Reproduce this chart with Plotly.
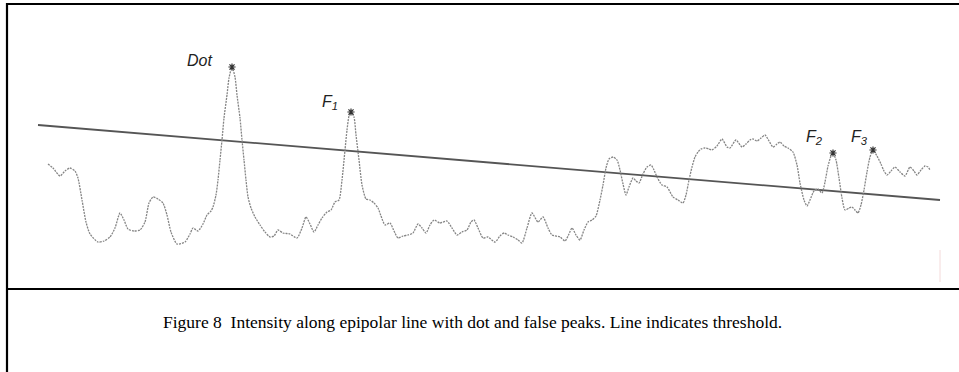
import plotly.graph_objects as go

W, H = 959, 372

# Intensity profile sampled along the epipolar line (position, intensity)
position = [48, 53, 60, 65, 70, 75, 78, 82, 86, 90, 98, 104, 110, 115, 120, 124, 128, 134, 140, 145,
            149, 153, 158, 163, 167, 171, 177, 185, 190, 193, 198, 203, 207, 211, 213, 216, 218, 220, 222, 224,
            227, 229, 232, 235, 237, 240, 242, 244, 246, 248, 251, 255, 260, 265, 270, 274, 278, 283, 290, 297,
            302, 306, 310, 314, 318, 322, 327, 331, 335, 339, 342, 345, 347, 349, 351, 354, 356, 359, 362, 366,
            370, 374, 378, 381, 385, 390, 394, 398, 403, 408, 413, 418, 422, 426, 430, 434, 440, 447, 452, 457,
            462, 467, 471, 474, 478, 483, 488, 495, 500, 504, 508, 513, 518, 522, 527, 532, 538, 543, 548, 552,
            560, 565, 569, 572, 576, 580, 584, 588, 592, 596, 600, 603, 606, 609, 613, 617, 620, 623, 626, 629,
            633, 636, 639, 643, 647, 651, 654, 657, 662, 667, 673, 678, 683, 686, 689, 692, 695, 698, 701, 705,
            709, 712, 717, 722, 727, 730, 736, 742, 746, 750, 753, 757, 761, 765, 769, 773, 777, 780, 784, 788,
            793, 797, 800, 804, 807, 810, 814, 818, 822, 825, 828, 831, 833, 836, 839, 842, 845, 849, 852, 855,
            858, 861, 864, 867, 870, 873, 877, 881, 884, 887, 891, 895, 900, 905, 910, 914, 917, 921, 925, 928,
            930]
level_px = [164, 168, 176, 171, 168, 171, 178, 200, 222, 234, 242, 241, 237, 228, 213, 220, 229, 231, 230, 222,
            203, 197, 199, 203, 215, 232, 244, 242, 234, 228, 231, 224, 215, 211, 207, 195, 180, 160, 140, 118,
            95, 78, 67, 77, 95, 118, 140, 160, 180, 197, 208, 217, 225, 232, 237, 236, 230, 233, 234, 238,
            228, 217, 224, 232, 225, 218, 212, 210, 202, 200, 180, 150, 130, 116, 112, 117, 135, 160, 185, 199,
            200, 203, 208, 216, 225, 223, 231, 238, 236, 235, 233, 224, 228, 233, 225, 220, 223, 221, 228, 235,
            232, 230, 222, 220, 228, 238, 237, 242, 236, 233, 235, 237, 240, 243, 228, 213, 222, 217, 228, 235,
            237, 241, 234, 228, 235, 240, 230, 222, 220, 216, 200, 185, 168, 159, 157, 160, 170, 184, 195, 187,
            178, 181, 183, 174, 167, 165, 170, 177, 185, 187, 197, 200, 203, 195, 180, 167, 157, 152, 149, 148,
            149, 150, 146, 139, 147, 148, 140, 147, 144, 140, 139, 141, 138, 135, 141, 147, 144, 142, 146, 148,
            152, 165, 183, 200, 206, 200, 191, 189, 193, 182, 166, 156, 153, 160, 178, 198, 210, 208, 207, 210,
            213, 205, 190, 172, 157, 150, 156, 164, 171, 175, 171, 167, 172, 176, 167, 171, 175, 170, 166, 167,
            170]
BASE = 260
intensity = [BASE - v for v in level_px]

# Detected peaks
peak_names = ["<i>Dot</i>", "<i>F<sub>1</sub></i>", "<i>F<sub>2</sub></i>", "<i>F<sub>3</sub></i>"]
peak_pos = [232, 351, 833, 873]
peak_val = [BASE - 67, BASE - 112, BASE - 153, BASE - 150]

# Sloped threshold line
threshold_pos = [38, 940]
threshold_val = [BASE - 125, BASE - 200]

fig = go.Figure()
fig.add_trace(go.Scatter(
    x=threshold_pos, y=threshold_val, mode="lines",
    line=dict(color="#555555", width=1.8), hoverinfo="skip"))
fig.add_trace(go.Scatter(
    x=position, y=intensity, mode="lines",
    line=dict(color="#858585", width=1.3, dash="2px,1px", shape="spline", smoothing=0.6),
    hoverinfo="skip"))
fig.add_trace(go.Scatter(
    x=peak_pos, y=peak_val, mode="markers",
    marker=dict(symbol="asterisk-open", size=6, color="#333333", line=dict(color="#333333", width=1.2)),
    hoverinfo="skip"))

# Peak labels, offset up-left from each peak
label_dx = [-33, -21, -19, -14]
label_dy = [7, 10, 16, 13]
for name, px, pv, dx, dy in zip(peak_names, peak_pos, peak_val, label_dx, label_dy):
    fig.add_annotation(x=px + dx, y=pv + dy, text=name, showarrow=False,
                       font=dict(family="Liberation Sans, Arial", size=16, color="#222222"))


def py(p):
    return 1 - p / H


def pxf(p):
    return p / W


frame = dict(color="black", width=2.2)
fig.add_shape(type="line", xref="paper", yref="paper", x0=pxf(6), x1=1, y0=py(4), y1=py(4), line=frame)
fig.add_shape(type="line", xref="paper", yref="paper", x0=pxf(7), x1=pxf(7), y0=py(3), y1=0, line=frame)
fig.add_shape(type="line", xref="paper", yref="paper", x0=pxf(6), x1=1, y0=py(289), y1=py(289), line=frame)
fig.add_shape(type="line", xref="paper", yref="paper", x0=pxf(940), x1=pxf(940), y0=py(250), y1=py(282),
              line=dict(color="#f4dada", width=1))

fig.add_annotation(
    xref="paper", yref="paper", x=pxf(472), y=py(322), yanchor="middle",
    text="Figure 8  Intensity along epipolar line with dot and false peaks. Line indicates threshold.",
    showarrow=False, font=dict(family="Liberation Serif, Times New Roman", size=17.5, color="black"))

fig.update_layout(
    width=W, height=H, margin=dict(l=0, r=0, t=0, b=0),
    paper_bgcolor="white", plot_bgcolor="white", showlegend=False,
    xaxis=dict(range=[0, W], visible=False, fixedrange=True),
    yaxis=dict(range=[BASE - H, BASE], visible=False, fixedrange=True),
)

fig.write_html("out.html", config={"displayModeBar": False})
